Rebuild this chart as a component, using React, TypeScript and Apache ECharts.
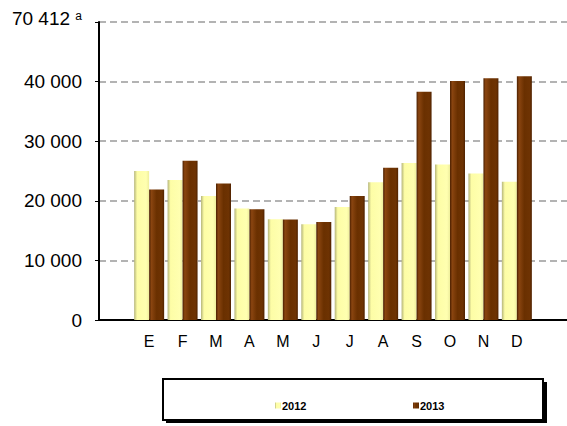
import React, { useEffect, useRef } from "react";
import * as echarts from "echarts";

const categories = ["", "E", "F", "M", "A", "M", "J", "J", "A", "S", "O", "N", "D", ""];
const values2012 = [null, 25000, 23500, 20800, 18700, 16900, 16050, 18950, 23100, 26350, 26100, 24600, 23200, null];
const values2013 = [null, 21900, 26700, 22900, 18600, 16880, 16450, 20800, 25550, 38300, 40100, 40550, 40900, null];
const seriesNames = ["2012", "2013"];
const topLabel = "70 412";

export default function App() {
  const ref = useRef<HTMLDivElement>(null);
  useEffect(() => {
    document.body.style.margin = "0";
    const chart = echarts.init(ref.current!, null, { renderer: "svg" });
    const yellowGrad = new echarts.graphic.LinearGradient(0, 0, 1, 0, [
      { offset: 0, color: "#b5b57a" },
      { offset: 0.2, color: "#fdfda6" },
      { offset: 0.8, color: "#ffffb0" },
      { offset: 1, color: "#eeee9c" },
    ]);
    const brownGrad = new echarts.graphic.LinearGradient(0, 0, 1, 0, [
      { offset: 0, color: "#4a1f00" },
      { offset: 0.15, color: "#8a4510" },
      { offset: 0.5, color: "#6a3000" },
      { offset: 0.85, color: "#6e3303" },
      { offset: 1, color: "#4f2200" },
    ]);
    const font = "Liberation Sans, Arial, sans-serif";
    chart.setOption({
      animation: false,
      grid: { left: 99, right: -2, top: 22, bottom: 106 },
      xAxis: {
        type: "category",
        data: categories,
        axisLine: { lineStyle: { color: "#000", width: 2 } },
        axisTick: { length: 5, lineStyle: { color: "#000", width: 1 } },
        axisLabel: { color: "#000", fontSize: 16, margin: 13, fontFamily: font },
      },
      yAxis: {
        type: "value",
        min: 0,
        max: 50000,
        interval: 10000,
        axisLine: { show: true, lineStyle: { color: "#000", width: 2 } },
        axisTick: { show: true, length: 4, lineStyle: { color: "#000", width: 1 } },
        splitLine: { lineStyle: { color: "#9a9a9a", width: 1.5, type: [7, 4] } },
        axisLabel: {
          color: "#000",
          fontSize: 19,
          margin: 17,
          fontFamily: font,
          formatter: (v: number) => {
            if (v === 50000) return "{n|" + topLabel + " }{s|a}";
            if (v === 0) return "0";
            return String(v).replace(/(\d)(?=(\d{3})+$)/g, "$1 ");
          },
          rich: {
            n: { fontSize: 19, color: "#000", fontFamily: font, padding: [0, 0, 8, 0] },
            s: { fontSize: 12, color: "#000", fontFamily: font, padding: [0, 0, 13, 0] },
          },
        },
      },
      legend: [
        {
          data: [seriesNames[0]],
          left: 270,
          top: 395,
          itemWidth: 6,
          itemHeight: 6,
          icon: "rect",
          textStyle: { fontSize: 11, fontWeight: "bold", color: "#000", fontFamily: font, padding: [0, 0, 0, -4] },
        },
        {
          data: [seriesNames[1]],
          left: 408,
          top: 395,
          itemWidth: 6,
          itemHeight: 6,
          icon: "rect",
          textStyle: { fontSize: 11, fontWeight: "bold", color: "#000", fontFamily: font, padding: [0, 0, 0, -4] },
        },
      ],
      graphic: [
        { type: "rect", z: 1, shape: { x: 166, y: 382, width: 381, height: 41 }, style: { fill: "#000" } },
        { type: "rect", z: 2, shape: { x: 163, y: 379, width: 380, height: 41 }, style: { fill: "#fff", stroke: "#000", lineWidth: 2 } },
      ],
      series: [
        {
          name: seriesNames[0],
          type: "bar",
          data: values2012,
          barWidth: 15,
          barGap: "0%",
          itemStyle: { color: yellowGrad },
        },
        {
          name: seriesNames[1],
          type: "bar",
          data: values2013,
          barWidth: 15,
          itemStyle: { color: brownGrad },
        },
      ],
    });
    return () => chart.dispose();
  }, []);
  return <div ref={ref} style={{ width: 567, height: 426 }} />;
}
